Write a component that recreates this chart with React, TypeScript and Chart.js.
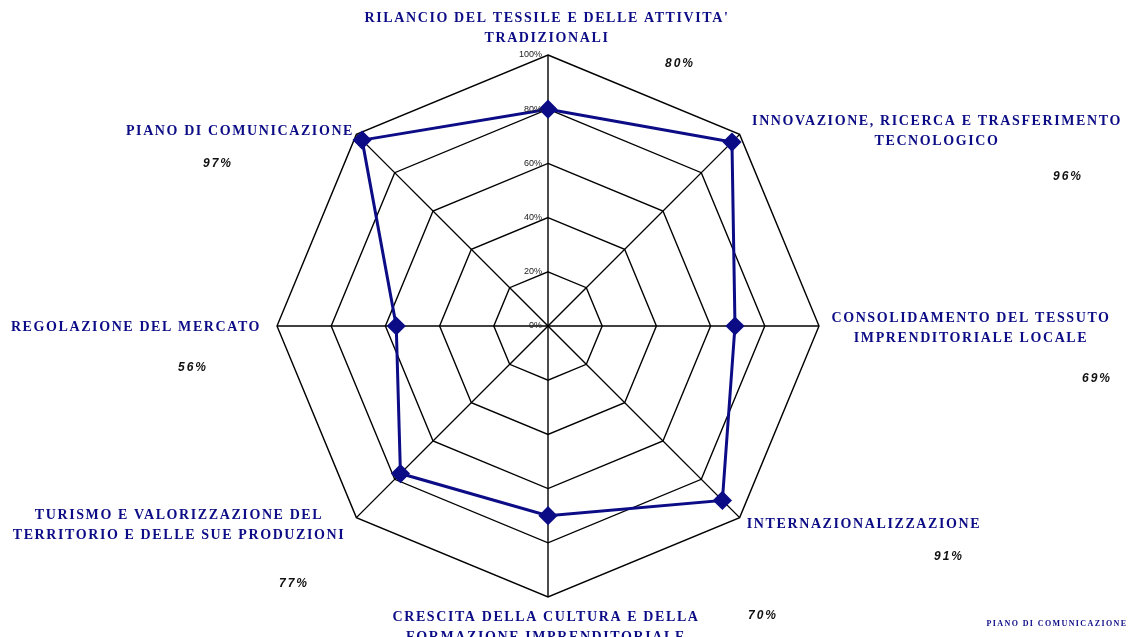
import React, { useEffect, useRef } from "react";
import { Chart, registerables } from "chart.js";

Chart.register(...registerables);

const categories = [
  ["RILANCIO DEL TESSILE E DELLE ATTIVITA'", "TRADIZIONALI"],
  ["INNOVAZIONE, RICERCA E TRASFERIMENTO", "TECNOLOGICO"],
  ["CONSOLIDAMENTO DEL TESSUTO", "IMPRENDITORIALE LOCALE"],
  ["INTERNAZIONALIZZAZIONE"],
  ["CRESCITA DELLA CULTURA E DELLA", "FORMAZIONE IMPRENDITORIALE"],
  ["TURISMO E VALORIZZAZIONE DEL", "TERRITORIO E DELLE SUE PRODUZIONI"],
  ["REGOLAZIONE DEL MERCATO"],
  ["PIANO DI COMUNICAZIONE"],
];
const values = [80, 96, 69, 91, 70, 77, 56, 97];
const percentLabels = ["80%", "96%", "69%", "91%", "70%", "77%", "56%", "97%"];
const tickValues = [0, 20, 40, 60, 80, 100];
const footerText = "PIANO DI COMUNICAZIONE";

// label layout (pixel anchors, centre of text block) - styling only
const labelPos = [
  { x: 547, y: 18 },
  { x: 937, y: 121 },
  { x: 971, y: 318 },
  { x: 864, y: 524 },
  { x: 546, y: 617 },
  { x: 179, y: 515 },
  { x: 136, y: 327 },
  { x: 240, y: 131 },
];
const pctPos = [
  { x: 680, y: 64 },
  { x: 1068, y: 177 },
  { x: 1097, y: 379 },
  { x: 949, y: 557 },
  { x: 763, y: 616 },
  { x: 294, y: 584 },
  { x: 193, y: 368 },
  { x: 218, y: 164 },
];

const NAVY = "#0c0c86";

const labelPlugin = {
  id: "customLabels",
  afterDraw(chart: any) {
    const ctx = chart.ctx as CanvasRenderingContext2D;
    const scale = chart.scales.r;
    ctx.save();
    // tick labels
    ctx.font = "9px 'Liberation Sans', Arial, sans-serif";
    ctx.fillStyle = "#222";
    ctx.textAlign = "right";
    ctx.textBaseline = "middle";
    tickValues.forEach((v) => {
      const d = scale.getDistanceFromCenterForValue(v);
      ctx.fillText(v + "%", scale.xCenter - 6, scale.yCenter - d);
    });
    // category labels
    ctx.fillStyle = NAVY;
    ctx.textAlign = "center";
    ctx.font = "bold 14px 'Liberation Serif', 'Times New Roman', serif";
    (ctx as any).letterSpacing = "1.6px";
    categories.forEach((lines, i) => {
      lines.forEach((line, j) => {
        ctx.fillText(line, labelPos[i].x, labelPos[i].y + j * 20);
      });
    });
    // percent labels
    ctx.fillStyle = "#111";
    ctx.font = "italic bold 12px 'Liberation Sans', Arial, sans-serif";
    (ctx as any).letterSpacing = "2px";
    percentLabels.forEach((p, i) => {
      ctx.fillText(p, pctPos[i].x, pctPos[i].y);
    });
    // footer
    ctx.fillStyle = NAVY;
    ctx.font = "bold 8px 'Liberation Serif', 'Times New Roman', serif";
    (ctx as any).letterSpacing = "1.4px";
    ctx.fillText(footerText, 1057, 624);
    ctx.restore();
  },
};

export default function App() {
  const ref = useRef<HTMLCanvasElement>(null);
  useEffect(() => {
    if (!ref.current) return;
    const chart = new Chart(ref.current, {
      type: "radar",
      data: {
        labels: categories.map((c) => c.join(" ")),
        datasets: [
          {
            data: values,
            borderColor: NAVY,
            backgroundColor: "transparent",
            borderWidth: 3,
            pointStyle: "rectRot",
            pointRadius: 7.5,
            pointBackgroundColor: NAVY,
            pointBorderColor: NAVY,
            fill: false,
          },
        ],
      },
      options: {
        responsive: false,
        animation: false,
        layout: { padding: { left: 277, right: 309, top: 55, bottom: 40 } },
        plugins: { legend: { display: false }, tooltip: { enabled: false } },
        scales: {
          r: {
            min: 0,
            max: 100,
            ticks: { display: false, stepSize: 20 },
            grid: { color: "#000", lineWidth: 1.4 },
            angleLines: { color: "#000", lineWidth: 1.4 },
            pointLabels: { display: false },
          },
        },
      },
      plugins: [labelPlugin],
    });
    return () => chart.destroy();
  }, []);
  return (
    <div style={{ position: "absolute", left: 0, top: 0, width: 1128, height: 637, background: "#fff" }}>
      <canvas ref={ref} width={1128} height={637} />
    </div>
  );
}
